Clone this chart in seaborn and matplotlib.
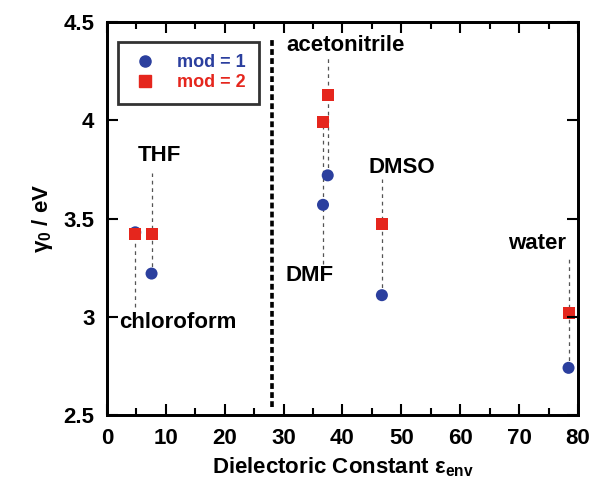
import matplotlib
matplotlib.use("Agg")
import matplotlib.pyplot as plt
import seaborn as sns
import pandas as pd
from matplotlib.ticker import MultipleLocator, NullLocator
from matplotlib.lines import Line2D

# ---- data ----
solvents = ["chloroform", "THF", "DMF", "acetonitrile", "DMSO", "water"]
eps_env = [4.81, 7.58, 36.7, 37.5, 46.7, 78.4]
gamma_mod1 = [3.43, 3.22, 3.57, 3.72, 3.11, 2.74]
gamma_mod2 = [3.42, 3.42, 3.99, 4.13, 3.47, 3.02]
mod_labels = ["mod = 1", "mod = 2"]
x_ticks = [0, 10, 20, 30, 40, 50, 60, 70, 80]
y_ticks = [2.5, 3, 3.5, 4, 4.5]
y_ticklabels = ["2.5", "3", "3.5", "4", "4.5"]

df = pd.concat([
    pd.DataFrame({"eps": eps_env, "gamma": gamma_mod1, "mod": mod_labels[0], "solvent": solvents}),
    pd.DataFrame({"eps": eps_env, "gamma": gamma_mod2, "mod": mod_labels[1], "solvent": solvents}),
], ignore_index=True)

# ---- style ----
sns.set_style("ticks")
plt.rcParams.update({
    "font.family": ["Liberation Sans", "DejaVu Sans"],
    "font.weight": "bold",
    "text.color": "black",
    "axes.labelcolor": "black",
    "axes.edgecolor": "black",
    "axes.linewidth": 2,
    "xtick.color": "black",
    "ytick.color": "black",
    "xtick.direction": "in",
    "ytick.direction": "in",
    "xtick.major.size": 8,
    "ytick.major.size": 8,
    "xtick.minor.size": 5,
    "xtick.major.width": 1.5,
    "ytick.major.width": 1.5,
    "xtick.minor.width": 1.5,
    "mathtext.fontset": "custom",
    "mathtext.rm": "Liberation Sans:bold",
    "mathtext.it": "Liberation Sans:bold",
    "mathtext.bf": "Liberation Sans:bold",
})

BLUE = "#2b3f9e"
RED = "#e5261d"
palette = {mod_labels[0]: BLUE, mod_labels[1]: RED}

fig = plt.figure(figsize=(5.94, 4.92), dpi=100)
rect = [0.180, 0.1565, 0.793, 0.7985]
ax = fig.add_axes(rect)

sns.scatterplot(data=df, x="eps", y="gamma", hue="mod", style="mod",
                markers={mod_labels[0]: "o", mod_labels[1]: "s"},
                palette=palette, s=75, linewidth=0, legend=False, ax=ax, zorder=3)

# guide lines (label leaders)
leaders = {
    "chloroform": (4.81, 3.05, 3.43),
    "THF": (7.58, 3.22, 3.73),
    "acetonitrile": (37.5, 3.72, 4.32),
    "DMF": (36.7, 3.27, 3.99),
    "DMSO": (46.7, 3.11, 3.70),
    "water": (78.4, 2.74, 3.30),
}
for name, (xx, y0, y1) in leaders.items():
    ax.plot([xx, xx], [y0, y1], color="#555555", lw=0.9, ls=(0, (3, 3)), zorder=1)

# boundary line
ax.plot([28, 28], [2.54, 4.42], color="black", lw=2.6, ls=(0, (1.6, 0.9)), zorder=1)

# solvent labels
label_pos = {
    "chloroform": (12.0, 2.97),
    "THF": (9.0, 3.82),
    "acetonitrile": (40.6, 4.38),
    "DMF": (34.5, 3.21),
    "DMSO": (50.0, 3.76),
    "water": (73.0, 3.375),
}
for name in solvents:
    xx, yy = label_pos[name]
    ax.text(xx, yy, name, ha="center", va="center", fontsize=16, fontweight="bold",
            color="black", zorder=4)

ax.set_xlim(0, 80)
ax.set_ylim(2.5, 4.5)
ax.set_xticks(x_ticks)
ax.set_xticklabels([str(t) for t in x_ticks])
ax.set_yticks(y_ticks)
ax.set_yticklabels(y_ticklabels)
ax.tick_params(axis="both", which="major", labelsize=16, pad=9,
               labelcolor="black", length=0)
for lab in ax.get_xticklabels() + ax.get_yticklabels():
    lab.set_fontweight("bold")

ax.set_xlabel(r"Dielectoric Constant $\varepsilon_{env}$", fontsize=16, fontweight="bold",
              labelpad=5, color="black")
ax.set_ylabel(r"$\gamma_0$ / eV", fontsize=16, fontweight="bold", labelpad=6, color="black")

# legend
handles = [
    Line2D([], [], marker="o", ls="none", color=BLUE, markersize=8),
    Line2D([], [], marker="s", ls="none", color=RED, markersize=8),
]
leg = ax.legend(handles, mod_labels, loc="upper left", bbox_to_anchor=(0.023, 0.95),
                frameon=True, fancybox=False, prop={"weight": "bold", "size": 13},
                handletextpad=1.0, borderpad=0.7, labelspacing=0.15, handlelength=1.6,
                borderaxespad=0)
leg.get_frame().set_edgecolor("black")
leg.get_frame().set_linewidth(2)
for txt, c in zip(leg.get_texts(), [BLUE, RED]):
    txt.set_color(c)

# overlay axes carrying the inward tick marks on all four sides
tax = fig.add_axes(rect, zorder=10)
tax.patch.set_visible(False)
tax.set_xlim(ax.get_xlim())
tax.set_ylim(ax.get_ylim())
tax.set_xticks(x_ticks)
tax.set_yticks(y_ticks)
tax.xaxis.set_minor_locator(MultipleLocator(5))
tax.yaxis.set_minor_locator(NullLocator())
tax.tick_params(axis="both", which="major", direction="in", length=8, width=1.5,
                color="black", top=True, bottom=True, left=True, right=True,
                labelbottom=False, labelleft=False, labeltop=False, labelright=False)
tax.tick_params(axis="x", which="minor", direction="in", length=5, width=1.5,
                color="black", top=True, bottom=True)
for sp in tax.spines.values():
    sp.set_visible(True)
    sp.set_linewidth(2)
    sp.set_color("black")

fig.savefig("out.png", dpi=100)
